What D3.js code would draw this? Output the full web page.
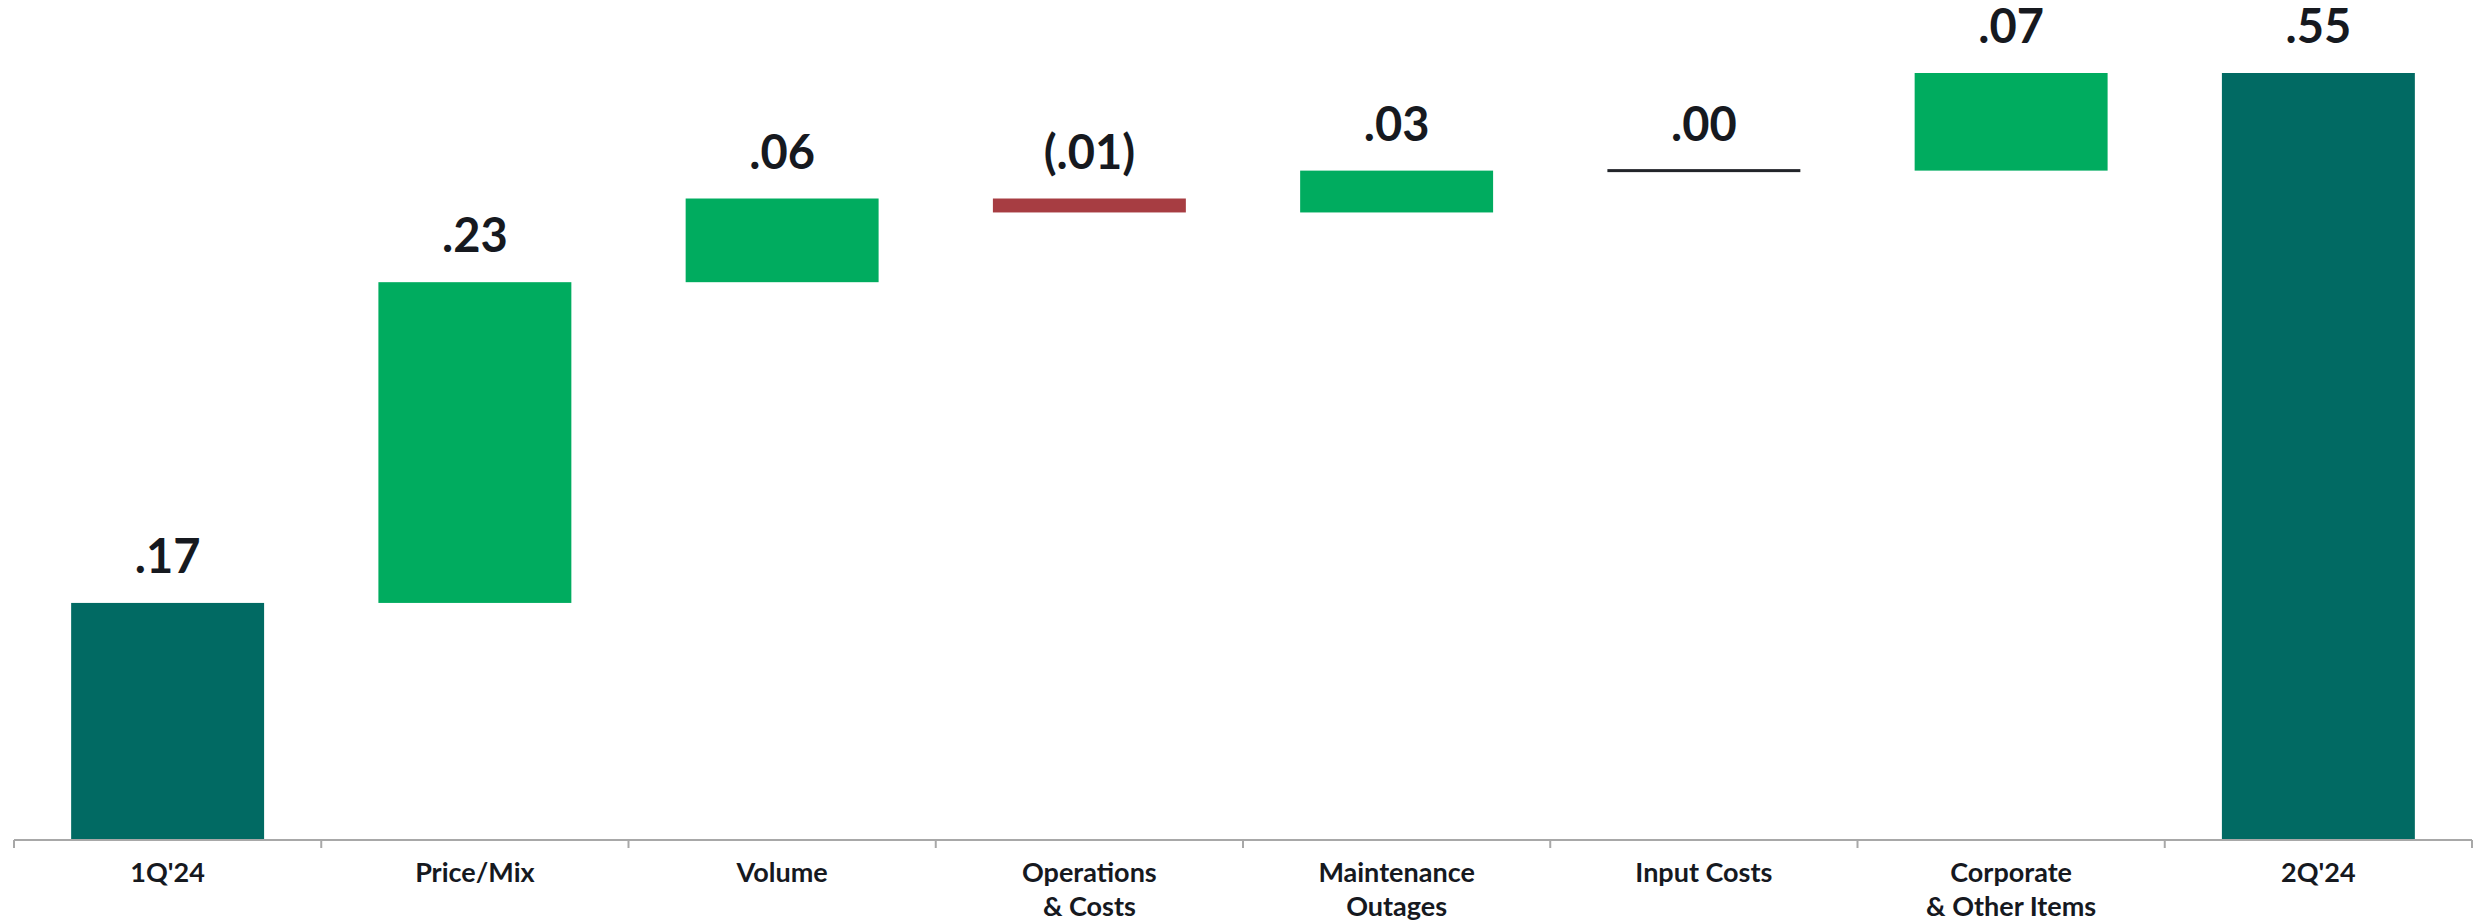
<!DOCTYPE html>
<html>
<head>
<meta charset="utf-8">
<script src="https://cdn.jsdelivr.net/npm/d3@7"></script>
<style>
  html, body { margin: 0; padding: 0; background: #fff; }
  svg { display: block; font-family: Lato, "Open Sans", sans-serif; }
  .value-label { font-size: 47px; font-weight: 700; fill: #16191f; }
  .cat-label { font-size: 27px; font-weight: 700; fill: #16191f; }
</style>
</head>
<body>
<svg id="canvas" width="2473" height="920"></svg>
<script>
// Chart data
const categories = [
  ["1Q'24"],
  ["Price/Mix"],
  ["Volume"],
  ["Operations", "& Costs"],
  ["Maintenance", "Outages"],
  ["Input Costs"],
  ["Corporate", "& Other Items"],
  ["2Q'24"],
];
const values = [0.17, 0.23, 0.06, -0.01, 0.03, 0.0, 0.07, 0.55];
const kinds = ["total", "delta", "delta", "delta", "delta", "delta", "delta", "total"];

// Colours
const colors = { total: "#016a63", up: "#00ac5f", down: "#a73d42", zero: "#22252a" };

const svg = d3.select("#canvas");
const [left, right, baseY, topY] = [14, 2472, 840, 73];

// Build waterfall steps
let running = 0;
const steps = values.map((v, i) => {
  let start, end;
  if (kinds[i] === "total") {
    start = 0;
    end = v;
    running = v;
  } else {
    start = running;
    end = running + v;
    running = end;
  }
  return { i, v, kind: kinds[i], start, end, lines: categories[i] };
});

const x = d3
  .scaleBand()
  .domain(d3.range(categories.length))
  .range([left, right])
  .paddingInner(0.372)
  .paddingOuter(0.186);

const y = d3.scaleLinear().domain([0, 0.55]).range([baseY, topY]);

const fillFor = (d) => {
  if (d.kind === "total") return colors.total;
  if (d.v > 0) return colors.up;
  if (d.v < 0) return colors.down;
  return colors.zero;
};

// Bars
svg
  .append("g")
  .selectAll("rect")
  .data(steps)
  .enter()
  .append("rect")
  .attr("x", (d) => x(d.i))
  .attr("width", x.bandwidth())
  .attr("y", (d) => (d.v === 0 ? y(d.end) - 1.5 : y(Math.max(d.start, d.end))))
  .attr("height", (d) => (d.v === 0 ? 3 : Math.abs(y(d.start) - y(d.end))))
  .attr("fill", fillFor);

// Value labels
const fmt = (v) => {
  const s = d3.format(".2f")(Math.abs(v)).replace(/^0/, "");
  return v < 0 ? `(${s})` : s;
};

svg
  .append("g")
  .selectAll("text")
  .data(steps)
  .enter()
  .append("text")
  .attr("class", "value-label")
  .attr("x", (d) => x(d.i) + x.bandwidth() / 2)
  .attr("y", (d) => y(Math.max(d.start, d.end)) - 30)
  .attr("text-anchor", "middle")
  .text((d) => fmt(d.v));

// Axis line with ticks at band edges
const axis = svg.append("g").attr("stroke", "#a8a8a8").attr("stroke-width", 2);
axis.append("line").attr("x1", left).attr("x2", right).attr("y1", baseY).attr("y2", baseY);

const edges = d3.range(categories.length + 1).map((k) => left + k * x.step());
axis
  .selectAll("line.tick")
  .data(edges)
  .enter()
  .append("line")
  .attr("class", "tick")
  .attr("x1", (d) => d)
  .attr("x2", (d) => d)
  .attr("y1", baseY)
  .attr("y2", baseY + 8);

// Category labels
const cat = svg
  .append("g")
  .selectAll("text")
  .data(steps)
  .enter()
  .append("text")
  .attr("class", "cat-label")
  .attr("text-anchor", "middle");

cat
  .selectAll("tspan")
  .data((d) => d.lines.map((t) => ({ t, cx: x(d.i) + x.bandwidth() / 2 })))
  .enter()
  .append("tspan")
  .attr("x", (d) => d.cx)
  .attr("y", (d, k) => 882 + k * 34)
  .text((d) => d.t);
</script>
</body>
</html>
